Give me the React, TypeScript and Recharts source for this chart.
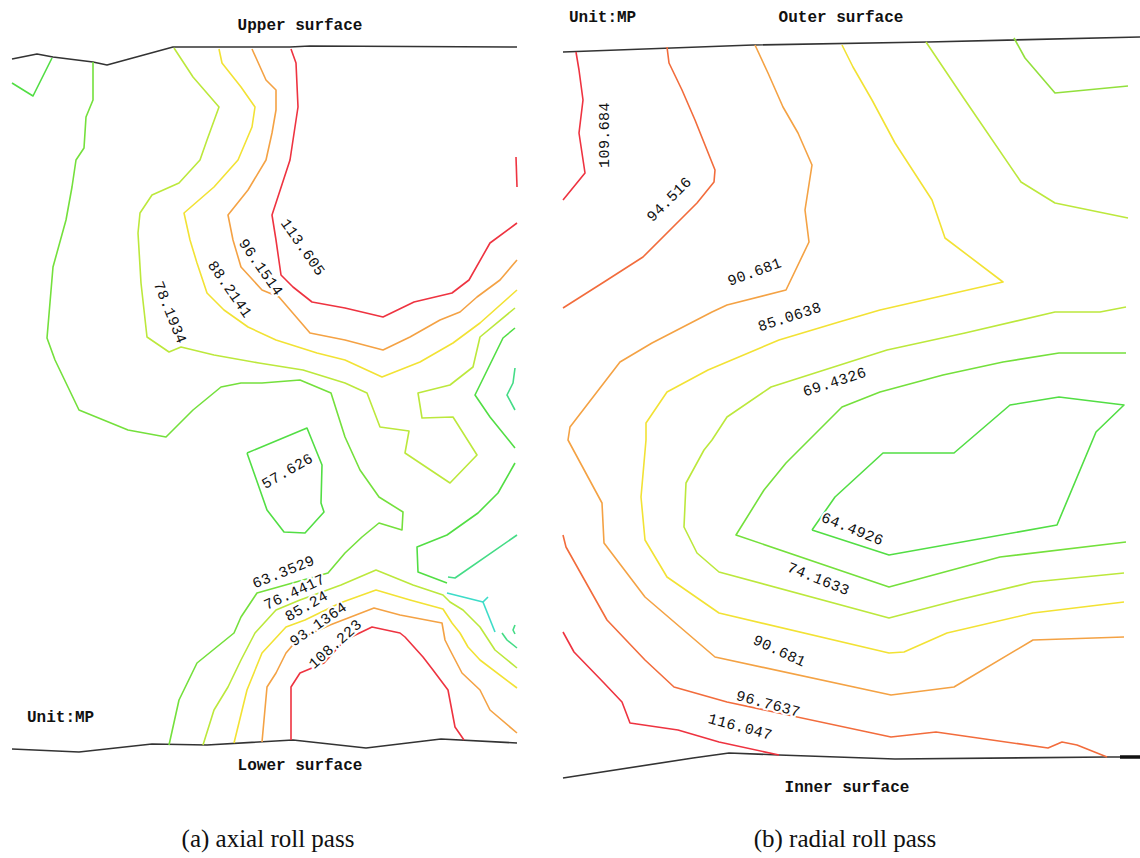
import React from 'react';
import { ScatterChart, Scatter, XAxis, YAxis } from 'recharts';

type XY = [number, number];

// Stress contours (MPa) of the two roll passes, traced in page units (y grows downward)

// (a) axial roll pass
const upperSurface: XY[] = [[12, 59], [37, 54], [53, 57], [93, 62], [107, 65], [173, 47], [290, 47], [310, 46], [517, 47]];
const lowerSurface: XY[] = [[12, 749], [79, 752], [152, 744], [207, 745], [293, 740], [366, 748], [441, 739], [517, 743]];

const axCornerV: XY[] = [[12, 83], [33, 96], [52, 58]];
const ax63: XY[] = [
  [93, 62], [93, 100], [86, 117], [84, 148], [76, 160], [72, 187], [66, 220], [53, 267], [47, 338], [55, 360],
  [79, 410], [128, 430], [166, 437], [193, 410], [221, 387], [241, 383], [262, 383], [300, 380], [331, 393],
  [345, 437], [360, 470], [379, 497], [403, 512], [402, 530], [379, 523], [362, 537], [345, 553], [328, 573],
  [257, 593], [241, 617], [234, 633], [197, 663], [179, 700], [169, 745],
];
const ax78: XY[] = [
  [174, 48], [193, 77], [219, 107], [207, 140], [200, 160], [179, 183], [152, 195], [140, 213], [138, 233],
  [141, 283], [147, 337], [169, 352], [181, 347], [214, 355], [259, 363], [303, 370], [345, 383], [367, 393],
  [380, 427], [409, 431], [405, 453], [450, 483], [477, 455], [453, 417], [422, 418], [418, 393], [450, 385],
  [473, 367], [480, 337], [515, 308],
];
const ax88: XY[] = [
  [219, 49], [222, 63], [241, 87], [255, 107], [252, 127], [238, 160], [214, 187], [184, 213], [190, 240],
  [197, 263], [207, 293], [224, 310], [248, 327], [276, 340], [317, 353], [345, 360], [382, 377], [420, 362],
  [453, 343], [480, 323], [517, 290],
];
const ax96: XY[] = [
  [252, 49], [266, 80], [276, 90], [276, 110], [272, 133], [266, 160], [248, 190], [228, 215], [233, 240],
  [241, 267], [262, 290], [279, 297], [310, 333], [345, 340], [383, 350], [410, 337], [440, 320], [460, 312],
  [477, 297], [500, 280], [517, 260],
];
const ax113: XY[] = [
  [291, 49], [296, 63], [298, 107], [290, 160], [272, 215], [276, 240], [281, 275], [293, 287], [312, 302],
  [345, 308], [383, 317], [414, 302], [452, 293], [469, 280], [490, 243], [517, 223],
];
const ax113Edge: XY[] = [[516, 157], [517, 187]];
const ax57: XY[] = [[247, 453], [307, 428], [322, 465], [321, 503], [324, 512], [305, 533], [284, 532], [267, 510], [247, 453]];
const axRight1: XY[] = [[515, 328], [503, 338], [475, 395], [490, 417], [515, 448]];
const axRight2: XY[] = [[515, 368], [513, 383], [507, 395], [515, 410]];
const axRight3: XY[] = [[515, 463], [498, 493], [478, 513], [447, 535], [417, 547], [418, 572], [447, 583]];
const axRight4: XY[] = [[517, 535], [455, 578], [448, 577]];
const axFork1: XY[] = [[447, 593], [483, 602], [488, 597]];
const axFork2: XY[] = [[483, 602], [495, 632]];
const axArc1: XY[] = [[502, 633], [507, 640], [517, 648]];
const axArc2: XY[] = [[515, 625], [513, 630], [515, 634]];
const ax76: XY[] = [
  [203, 745], [214, 710], [228, 687], [241, 660], [255, 633], [276, 610], [300, 600], [341, 585], [376, 570],
  [413, 585], [443, 595], [450, 602], [463, 610], [480, 627], [495, 650], [517, 668],
];
const ax85: XY[] = [
  [234, 743], [247, 690], [262, 653], [286, 627], [305, 620], [340, 603], [376, 590], [410, 600], [443, 609],
  [452, 623], [460, 633], [468, 647], [480, 660], [517, 688],
];
const ax93: XY[] = [
  [262, 742], [267, 687], [276, 673], [286, 653], [297, 640], [330, 625], [374, 608], [400, 615], [442, 623],
  [445, 640], [450, 650], [462, 673], [480, 690], [490, 710], [517, 733],
];
const ax108: XY[] = [
  [291, 740], [291, 687], [300, 673], [324, 663], [345, 640], [372, 627], [400, 633], [405, 637], [423, 657],
  [433, 670], [448, 690], [455, 727], [464, 740],
];

// (b) radial roll pass
const outerSurface: XY[] = [[563, 52], [753, 45], [928, 42], [1140, 37]];
const innerSurface: XY[] = [[563, 778], [693, 758], [729, 753], [779, 755], [895, 759], [1107, 757], [1140, 757]];
const innerSurfaceEnd: XY[] = [[1120, 757], [1140, 757]];

const rd109: XY[] = [[576, 52], [579, 70], [583, 100], [579, 133], [585, 173], [563, 200]];
const rd94: XY[] = [[667, 47], [669, 63], [682, 90], [695, 120], [715, 170], [714, 182], [697, 203], [643, 257], [604, 282], [563, 308]];
const rd90: XY[] = [
  [755, 45], [768, 73], [783, 107], [798, 133], [812, 165], [805, 210], [809, 242], [786, 290], [727, 305],
  [712, 312], [652, 343], [620, 362], [570, 427], [568, 440], [602, 503], [604, 543], [645, 597], [715, 657],
  [891, 695], [954, 687], [1033, 640], [1124, 637],
];
const rd85: XY[] = [
  [842, 45], [853, 67], [872, 100], [895, 143], [932, 200], [945, 238], [1003, 282], [880, 310], [839, 322],
  [779, 340], [708, 370], [667, 392], [646, 423], [646, 440], [641, 497], [645, 540], [667, 577], [719, 613],
  [889, 653], [904, 652], [947, 633], [1033, 613], [1124, 602],
];
const rdTopRight1: XY[] = [[926, 42], [965, 100], [1021, 182], [1055, 203], [1128, 218]];
const rdTopRight2: XY[] = [[1014, 38], [1025, 58], [1055, 93], [1128, 86]];
const rd69: XY[] = [
  [1126, 307], [1100, 312], [1055, 312], [965, 333], [887, 350], [771, 387], [727, 417], [712, 440], [704, 450],
  [686, 483], [684, 527], [697, 553], [719, 572], [889, 618], [958, 600], [1033, 582], [1124, 573],
];
const rd74: XY[] = [
  [1126, 353], [1059, 353], [1003, 362], [943, 375], [880, 392], [842, 407], [809, 440], [786, 463], [764, 490],
  [736, 535], [889, 587], [1000, 557], [1126, 542],
];
const rd64: XY[] = [
  [812, 530], [835, 497], [883, 453], [954, 453], [1010, 405], [1059, 397], [1124, 405], [1096, 432],
  [1057, 525], [889, 555], [812, 530],
];
const rd96: XY[] = [
  [563, 535], [566, 547], [607, 620], [645, 660], [674, 687], [727, 702], [891, 737], [936, 732], [1048, 748],
  [1062, 742], [1077, 745], [1107, 757],
];
const rd116: XY[] = [[563, 632], [574, 652], [604, 683], [622, 702], [630, 723], [678, 730], [719, 742], [779, 755]];

// contour level labels: position, rotation (deg), text
const axialLevels = [
  { x: 302, y: 248, angle: 55, text: '113.605' },
  { x: 260, y: 268, angle: 55, text: '96.1514' },
  { x: 229, y: 290, angle: 55, text: '88.2141' },
  { x: 169, y: 313, angle: 68, text: '78.1934' },
  { x: 288, y: 472, angle: -30, text: '57.626' },
  { x: 284, y: 573, angle: -22, text: '63.3529' },
  { x: 295, y: 593, angle: -25, text: '76.4417' },
  { x: 307, y: 607, angle: -30, text: '85.24' },
  { x: 319, y: 625, angle: -35, text: '93.1364' },
  { x: 336, y: 645, angle: -42, text: '108.223' },
];
const radialLevels = [
  { x: 605, y: 135, angle: -90, text: '109.684' },
  { x: 670, y: 200, angle: -45, text: '94.516' },
  { x: 755, y: 273, angle: -20, text: '90.681' },
  { x: 790, y: 318, angle: -18, text: '85.0638' },
  { x: 835, y: 383, angle: -18, text: '69.4326' },
  { x: 852, y: 530, angle: 22, text: '64.4926' },
  { x: 818, y: 580, angle: 22, text: '74.1633' },
  { x: 779, y: 652, angle: 25, text: '90.681' },
  { x: 768, y: 705, angle: 15, text: '96.7637' },
  { x: 740, y: 728, angle: 15, text: '116.047' },
];

const surfaceTitles = [
  { x: 300, y: 26, text: 'Upper surface' },
  { x: 300, y: 766, text: 'Lower surface' },
  { x: 841, y: 18, text: 'Outer surface' },
  { x: 847, y: 788, text: 'Inner surface' },
];
const unitNotes = [
  { x: 27, y: 718, text: 'Unit:MP' },
  { x: 569, y: 18, text: 'Unit:MP' },
];
const captions = [
  { x: 268, y: 838, text: '(a) axial roll pass' },
  { x: 845, y: 838, text: '(b) radial roll pass' },
];

const RED = '#ee3340';
const ORANGE_RED = '#f26c3c';
const ORANGE = '#f4a244';
const YELLOW = '#f2e234';
const YELLOW_GREEN = '#bce83c';
const GREEN = '#74e03c';
const BRIGHT_GREEN = '#52de44';
const TEAL = '#44dc86';
const CYAN = '#3cdcc8';
const SURFACE = '#333333';

const toPoints = (line: XY[]) => line.map(([x, y]) => ({ x, y }));

const contours: { id: string; data: XY[]; color: string; width?: number }[] = [
  { id: 'upper', data: upperSurface, color: SURFACE },
  { id: 'lower', data: lowerSurface, color: SURFACE },
  { id: 'axCornerV', data: axCornerV, color: BRIGHT_GREEN },
  { id: 'ax63', data: ax63, color: GREEN },
  { id: 'ax78', data: ax78, color: YELLOW_GREEN },
  { id: 'ax88', data: ax88, color: YELLOW },
  { id: 'ax96', data: ax96, color: ORANGE },
  { id: 'ax113', data: ax113, color: RED },
  { id: 'ax113Edge', data: ax113Edge, color: RED },
  { id: 'ax57', data: ax57, color: BRIGHT_GREEN },
  { id: 'axRight1', data: axRight1, color: BRIGHT_GREEN },
  { id: 'axRight2', data: axRight2, color: TEAL },
  { id: 'axRight3', data: axRight3, color: BRIGHT_GREEN },
  { id: 'axRight4', data: axRight4, color: TEAL },
  { id: 'axFork1', data: axFork1, color: CYAN },
  { id: 'axFork2', data: axFork2, color: CYAN },
  { id: 'axArc1', data: axArc1, color: TEAL },
  { id: 'axArc2', data: axArc2, color: TEAL },
  { id: 'ax76', data: ax76, color: YELLOW_GREEN },
  { id: 'ax85', data: ax85, color: YELLOW },
  { id: 'ax93', data: ax93, color: ORANGE },
  { id: 'ax108', data: ax108, color: RED },
  { id: 'outer', data: outerSurface, color: SURFACE },
  { id: 'inner', data: innerSurface, color: SURFACE },
  { id: 'innerEnd', data: innerSurfaceEnd, color: '#111111', width: 3.5 },
  { id: 'rd109', data: rd109, color: RED },
  { id: 'rd94', data: rd94, color: ORANGE_RED },
  { id: 'rd90', data: rd90, color: ORANGE },
  { id: 'rd85', data: rd85, color: YELLOW },
  { id: 'rdTopRight1', data: rdTopRight1, color: YELLOW_GREEN },
  { id: 'rdTopRight2', data: rdTopRight2, color: '#92e03c' },
  { id: 'rd69', data: rd69, color: YELLOW_GREEN },
  { id: 'rd74', data: rd74, color: GREEN },
  { id: 'rd64', data: rd64, color: BRIGHT_GREEN },
  { id: 'rd96', data: rd96, color: ORANGE_RED },
  { id: 'rd116', data: rd116, color: RED },
];

const noMarker = () => <g />;

const LevelLabel = (props: any) => {
  const { cx, cy, payload } = props;
  return (
    <text
      x={cx}
      y={cy}
      transform={`rotate(${payload.angle} ${cx} ${cy})`}
      textAnchor="middle"
      dominantBaseline="central"
      fontFamily="'Liberation Mono', monospace"
      fontSize={15}
      letterSpacing={0.4}
      fill="#111"
      stroke="#fff"
      strokeWidth={4}
      paintOrder="stroke"
    >
      {payload.text}
    </text>
  );
};

const SurfaceTitle = (props: any) => {
  const { cx, cy, payload } = props;
  return (
    <text x={cx} y={cy} textAnchor="middle" dominantBaseline="central"
      fontFamily="'Liberation Mono', monospace" fontWeight="bold" fontSize={16} fill="#111">
      {payload.text}
    </text>
  );
};

const UnitNote = (props: any) => {
  const { cx, cy, payload } = props;
  return (
    <text x={cx} y={cy} textAnchor="start" dominantBaseline="central"
      fontFamily="'Liberation Mono', monospace" fontWeight="bold" fontSize={16} fill="#111">
      {payload.text}
    </text>
  );
};

const Caption = (props: any) => {
  const { cx, cy, payload } = props;
  return (
    <text x={cx} y={cy} textAnchor="middle" dominantBaseline="central"
      fontFamily="'Liberation Serif', 'Times New Roman', serif" fontSize={25} fill="#111">
      {payload.text}
    </text>
  );
};

export default function App() {
  return (
    <div style={{ position: 'absolute', left: 0, top: 0, width: 1140, height: 858, background: '#fff' }}>
      <ScatterChart width={1140} height={858} margin={{ top: 0, right: 0, bottom: 0, left: 0 }}>
        <XAxis dataKey="x" type="number" domain={[0, 1140]} hide allowDataOverflow />
        <YAxis dataKey="y" type="number" domain={[0, 858]} reversed hide allowDataOverflow />
        {contours.map((c) => (
          <Scatter
            key={c.id}
            data={toPoints(c.data)}
            line={{ stroke: c.color, strokeWidth: c.width ?? 1.6, strokeLinejoin: 'round' }}
            shape={noMarker}
            isAnimationActive={false}
          />
        ))}
        <Scatter data={[...axialLevels, ...radialLevels]} shape={LevelLabel} isAnimationActive={false} />
        <Scatter data={surfaceTitles} shape={SurfaceTitle} isAnimationActive={false} />
        <Scatter data={unitNotes} shape={UnitNote} isAnimationActive={false} />
        <Scatter data={captions} shape={Caption} isAnimationActive={false} />
      </ScatterChart>
    </div>
  );
}
